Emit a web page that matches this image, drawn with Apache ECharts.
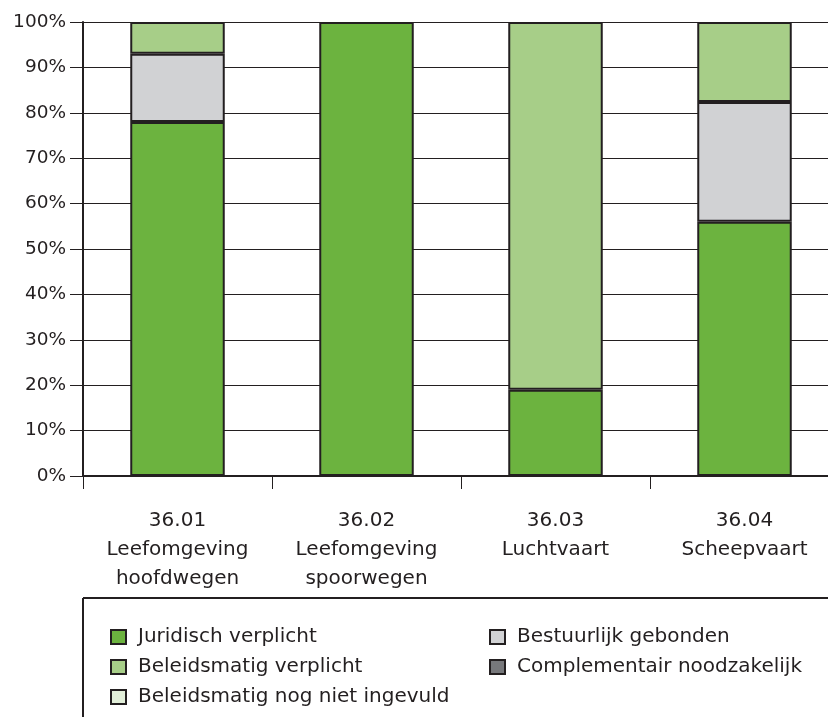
<!DOCTYPE html>
<html><head><meta charset="utf-8">
<script src="https://cdn.jsdelivr.net/npm/echarts@6/dist/echarts.min.js"></script>
<style>html,body{margin:0;padding:0;background:#fff}#c{width:828px;height:717px}</style>
</head><body><div id="c"></div>
<script>
const categories = ['36.01\nLeefomgeving\nhoofdwegen','36.02\nLeefomgeving\nspoorwegen','36.03\nLuchtvaart','36.04\nScheepvaart'];
const yTicks = [0,10,20,30,40,50,60,70,80,90,100];
const juridisch = [78, 100, 19, 56];
const bestuurlijk = [15, 0, 0, 26.4];
const complementair = [0, 0, 0, 0];
const beleidsVerplicht = [7, 0, 81, 17.6];
const beleidsNogNiet = [0, 0, 0, 0];

const FONT = '"DejaVu Sans", "Liberation Sans", Arial, sans-serif';
const INK = '#231f20';
const toData = a => a.map(v => v === 0 ? '-' : v);
function s(name, data, color){
  return {name, type:'bar', stack:'t', data: toData(data), barWidth:'50%',
    itemStyle:{color, borderColor:INK, borderWidth:2}, emphasis:{disabled:true}};
}
const chart = echarts.init(document.getElementById('c'), null, {renderer:'canvas'});
chart.setOption({
  animation:false,
  textStyle:{fontFamily:FONT},
  grid:{left:83, top:22, width:756, height:454, containLabel:false, outerBoundsMode:'none'},
  xAxis:{type:'category', data:categories,
    axisLine:{lineStyle:{color:INK, width:2}},
    axisTick:{show:true, length:13, lineStyle:{color:INK, width:1}},
    axisLabel:{color:INK, fontSize:20, lineHeight:29, margin:30, fontFamily:FONT, interval:0}},
  yAxis:{type:'value', min:yTicks[0], max:yTicks[yTicks.length-1], interval:10,
    axisLine:{show:true, lineStyle:{color:INK, width:2}},
    axisTick:{show:true, length:13, lineStyle:{color:INK, width:1}},
    axisLabel:{formatter:'{value}%', color:INK, fontSize:18.5, margin:17, fontFamily:FONT},
    splitLine:{lineStyle:{color:INK, width:1}}},
  legend:[
    {left:105, top:622, orient:'vertical', itemGap:10, itemWidth:15, itemHeight:14, icon:'rect',
     selectedMode:false, textStyle:{fontSize:20, color:INK, padding:[0,0,0,7], fontFamily:FONT},
     data:['Juridisch verplicht','Beleidsmatig verplicht','Beleidsmatig nog niet ingevuld']},
    {left:484, top:622, orient:'vertical', itemGap:10, itemWidth:15, itemHeight:14, icon:'rect',
     selectedMode:false, textStyle:{fontSize:20, color:INK, padding:[0,0,0,7], fontFamily:FONT},
     data:['Bestuurlijk gebonden','Complementair noodzakelijk']}
  ],
  graphic:[
    {type:'line', shape:{x1:83, y1:598, x2:828, y2:598}, style:{stroke:INK, lineWidth:2}},
    {type:'line', shape:{x1:83, y1:598, x2:83, y2:717}, style:{stroke:INK, lineWidth:2}}
  ],
  series:[
    s('Juridisch verplicht', juridisch, '#6cb33f'),
    s('Bestuurlijk gebonden', bestuurlijk, '#d1d2d4'),
    s('Complementair noodzakelijk', complementair, '#77787b'),
    s('Beleidsmatig verplicht', beleidsVerplicht, '#a7ce88'),
    s('Beleidsmatig nog niet ingevuld', beleidsNogNiet, '#e2efd9')
  ]
});
</script></body></html>
